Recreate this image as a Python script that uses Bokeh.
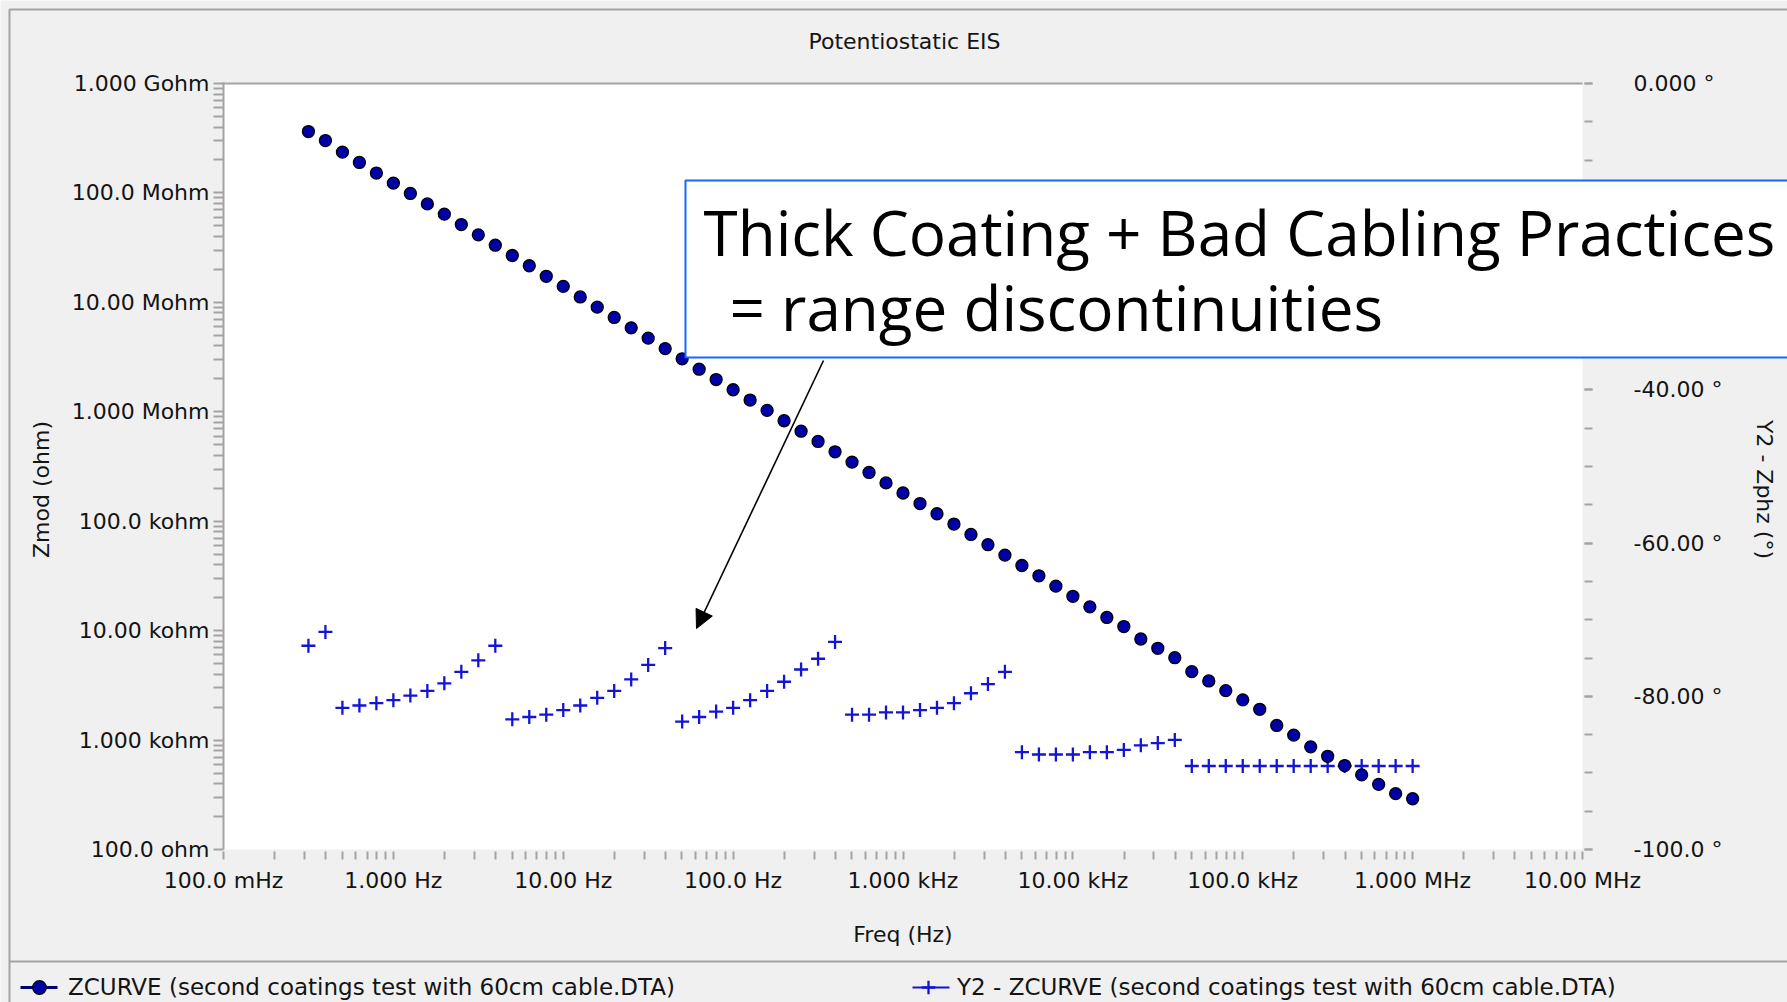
from bokeh.plotting import figure
from bokeh.models import (LinearAxis, LogAxis, Range1d, LinearScale, LogScale, Label, Arrow,
                          NormalHead, BoxAnnotation, Legend, LegendItem, FixedTicker)
from bokeh.embed import file_html
from bokeh.resources import INLINE

# ---------------- data ----------------
freq_hz = [0.3162, 0.3981, 0.5012, 0.6310, 0.7943, 1.0, 1.259, 1.585, 1.995, 2.512,
           3.162, 3.981, 5.012, 6.310, 7.943, 10.0, 12.59, 15.85, 19.95, 25.12,
           31.62, 39.81, 50.12, 63.10, 79.43, 100.0, 125.9, 158.5, 199.5, 251.2,
           316.2, 398.1, 501.2, 631.0, 794.3, 1000.0, 1259, 1585, 1995, 2512,
           3162, 3981, 5012, 6310, 7943, 10000, 12590, 15850, 19950, 25120,
           31620, 39810, 50120, 63100, 79430, 100000, 125900, 158500, 199500, 251200,
           316200, 398100, 501200, 631000, 794300, 1000000]

zmod_ohm = [3.64e8, 3.01e8, 2.36e8, 1.90e8, 1.52e8, 1.23e8, 9.89e7, 7.94e7, 6.40e7, 5.14e7,
            4.14e7, 3.33e7, 2.68e7, 2.16e7, 1.73e7, 1.40e7, 1.12e7, 9.04e6, 7.28e6, 5.85e6,
            4.71e6, 3.78e6, 3.05e6, 2.45e6, 1.97e6, 1.59e6, 1.28e6, 1.03e6, 8.28e5, 6.65e5,
            5.36e5, 4.31e5, 3.47e5, 2.79e5, 2.24e5, 1.81e5, 1.45e5, 1.17e5, 9.42e4, 7.57e4,
            6.10e4, 4.90e4, 3.94e4, 3.17e4, 2.55e4, 2.06e4, 1.65e4, 1.32e4, 1.09e4, 8.39e3,
            6.90e3, 5.66e3, 4.22e3, 3.47e3, 2.83e3, 2.33e3, 1.91e3, 1.36e3, 1.11e3, 867,
            711, 585, 481, 394, 324, 291]

zphz_deg = [-73.4, -71.6,
            -81.5, -81.2, -80.9, -80.5, -79.9, -79.3, -78.3, -76.8, -75.3, -73.4,
            -83.0, -82.7, -82.4, -81.8, -81.2, -80.2, -79.3, -77.8, -75.9, -73.7,
            -83.3, -82.7, -82.0, -81.5, -80.5, -79.3, -78.1, -76.5, -75.1, -72.9,
            -82.4, -82.4, -82.1, -82.1, -81.8, -81.5, -80.9, -79.6, -78.4, -76.8,
            -87.3, -87.6, -87.6, -87.6, -87.3, -87.3, -87.0, -86.4, -86.1, -85.7,
            -89.1, -89.1, -89.1, -89.1, -89.1, -89.1, -89.1, -89.1, -89.1, -89.1,
            -89.1, -89.1, -89.1, -89.1]

x_ticks = [0.1, 1, 10, 100, 1e3, 1e4, 1e5, 1e6, 1e7]
x_tick_labels = ["100.0 mHz", "1.000 Hz", "10.00 Hz", "100.0 Hz", "1.000 kHz",
                 "10.00 kHz", "100.0 kHz", "1.000 MHz", "10.00 MHz"]
y_ticks = [100, 1e3, 1e4, 1e5, 1e6, 1e7, 1e8, 1e9]
y_tick_labels = ["100.0 ohm", "1.000 kohm", "10.00 kohm", "100.0 kohm",
                 "1.000 Mohm", "10.00 Mohm", "100.0 Mohm", "1.000 Gohm"]
phase_ticks = [-100, -80, -60, -40, -20, 0]
phase_tick_labels = ["-100.0 °", "-80.00 °", "-60.00 °", "-40.00 °", "-20.00 °", "0.000 °"]

title_text = "Potentiostatic EIS"
x_title = "Freq (Hz)"
y_title = "Zmod (ohm)"
y2_title = "Y2 - Zphz (°)"
legend_1 = "ZCURVE (second coatings test with 60cm cable.DTA)"
legend_2 = "Y2 - ZCURVE (second coatings test with 60cm cable.DTA)"
note_1 = "Thick Coating + Bad Cabling Practices"
note_2 = "= range discontinuities"

# ---------------- layout (canvas pixels) ----------------
W, H = 1787, 1002
L, R, T, B = 223, 1582, 83, 849     # white plot area inside the canvas
X0, X1 = 0.1, 1e7
Y0, Y1 = 100, 1e9
P0, P1 = -100, 0


def xd(px):
    return 10 ** (-1 + (px - L) * 8 / (R - L))


def yd(py):
    return 10 ** (9 - (py - T) * 7 / (B - T))


def pdg(py):
    return -(py - T) * 100 / (B - T)


FONT = "DejaVu Sans"
FS = "22px"
GRAY = "#a3a3a3"
TXT = "#141414"
NAVY = "#0000a8"
BLUE = "#1414d2"

p = figure(width=W, height=H, x_axis_type=None, y_axis_type=None,
           x_range=Range1d(xd(0), xd(W)), y_range=Range1d(yd(H), yd(0)),
           output_backend="svg", toolbar_location=None,
           min_border_left=0, min_border_right=0, min_border_top=0, min_border_bottom=0,
           background_fill_color="#f0f0f0", border_fill_color="#f0f0f0",
           outline_line_color=None)
p.x_scale = LogScale()
p.y_scale = LogScale()
p.grid.visible = False
p.extra_y_ranges = {"phase": Range1d(pdg(H), pdg(0))}
p.extra_y_scales = {"phase": LinearScale()}


def band(x0, x1, y0, y1, color, level="underlay"):
    p.add_layout(BoxAnnotation(left=xd(x0), right=xd(x1), top=yd(y0), bottom=yd(y1),
                               fill_color=color, fill_alpha=1, line_alpha=0, level=level))


# white plot area, top line and left axis line
p.add_layout(BoxAnnotation(left=X0, right=X1, bottom=Y0, top=Y1, fill_color="white",
                           fill_alpha=1, line_alpha=0, level="underlay"))
band(L - 1, R, T - 1, T + 1, GRAY)
band(L - 1, L + 1, T - 1, B, GRAY)

# outer frame and legend separator
p.add_layout(BoxAnnotation(left=xd(9), right=xd(W + 20), top=yd(9), bottom=yd(H + 20),
                           fill_alpha=0, line_color=GRAY, line_alpha=1, line_width=2,
                           level="underlay"))
band(9, W + 20, 960, 962, GRAY)

# legend glyph lines
band(20, 57, 985.5, 988.5, "#00006e")
band(912, 949, 986, 988, BLUE)

# ---------------- axes ----------------
xa = LogAxis(ticker=FixedTicker(ticks=x_ticks,
                                minor_ticks=[m * 10 ** k for k in range(-1, 7) for m in range(2, 10)]),
             fixed_location=Y0, bounds=(X0, X1))
xa.major_label_overrides = dict(zip(x_ticks, x_tick_labels))
xa.major_label_standoff = 8
xa.axis_label = x_title
xa.axis_label_standoff = 26
p.add_layout(xa, "below")

ya = LogAxis(ticker=FixedTicker(ticks=y_ticks,
                                minor_ticks=[m * 10 ** k for k in range(2, 9) for m in range(2, 10)]),
             fixed_location=X0, bounds=(yd(B + 46), Y1))
ya.major_label_overrides = dict(zip(y_ticks, y_tick_labels))
ya.major_label_standoff = 4
ya.axis_label = y_title
ya.axis_label_standoff = 15
p.add_layout(ya, "left")

ra = LinearAxis(y_range_name="phase",
                ticker=FixedTicker(ticks=phase_ticks, minor_ticks=list(range(-100, 1, 5))),
                fixed_location=X1, bounds=(pdg(B + 46), P1))
ra.major_label_overrides = dict(zip(phase_ticks, phase_tick_labels))
ra.major_label_standoff = 41
ra.axis_label = y2_title
ra.axis_label_standoff = 27
p.add_layout(ra, "right")

for a in [xa, ya, ra]:
    a.axis_line_color = None
    a.major_tick_in = -2 if a is not ya else 0
    a.major_tick_out = 10
    a.minor_tick_in = -2 if a is not ya else 0
    a.minor_tick_out = 10
    a.major_tick_line_color = GRAY
    a.minor_tick_line_color = GRAY
    a.major_tick_line_width = 2
    a.minor_tick_line_width = 2
    a.major_label_text_font = FONT
    a.major_label_text_font_size = FS
    a.major_label_text_color = TXT
    a.axis_label_text_font = FONT
    a.axis_label_text_font_size = FS
    a.axis_label_text_font_style = "normal"
    a.axis_label_text_color = TXT

# title
p.add_layout(Label(x=xd(904), y=yd(41), text=title_text, text_font=FONT, text_font_size=FS,
                   text_color=TXT, text_align="center", text_baseline="middle"))

# ---------------- data marks ----------------
r_p = p.scatter(freq_hz, zphz_deg, marker="cross", size=14, y_range_name="phase",
                line_color=BLUE, line_width=2.3)
r_z = p.scatter(freq_hz, zmod_ohm, marker="circle", size=12,
                fill_color=NAVY, line_color="black", line_width=1.3)

legend = Legend(items=[LegendItem(label=legend_1, renderers=[r_z]),
                       LegendItem(label=legend_2, renderers=[r_p])],
                orientation="horizontal", location=(20, -2),
                label_text_font=FONT, label_text_font_size="23px", label_text_color=TXT,
                glyph_width=38, glyph_height=34, label_height=24, label_standoff=10,
                spacing=234, padding=0, margin=0,
                background_fill_alpha=0, border_line_color=None)
p.add_layout(legend, "center")

# ---------------- annotation box ----------------
p.add_layout(BoxAnnotation(left=xd(685), right=xd(W + 40), top=yd(180), bottom=yd(357),
                           fill_color="white", fill_alpha=1, line_color="#1467ff",
                           line_alpha=1, line_width=2, level="overlay"))
p.add_layout(Label(x=xd(703), y=yd(231), text=note_1, text_font="Open Sans",
                   text_font_size="62px", text_color="black", text_baseline="middle",
                   level="overlay"))
p.add_layout(Label(x=xd(729), y=yd(306), text=note_2, text_font="Open Sans",
                   text_font_size="62px", text_color="black", text_baseline="middle",
                   level="overlay"))
p.add_layout(Arrow(end=NormalHead(size=18, fill_color="black", line_color="black"),
                   x_start=xd(823), y_start=yd(360), x_end=xd(696), y_end=yd(628),
                   line_color="black", line_width=1.6, level="overlay"))

open("out.html", "w").write(file_html(p, INLINE))
